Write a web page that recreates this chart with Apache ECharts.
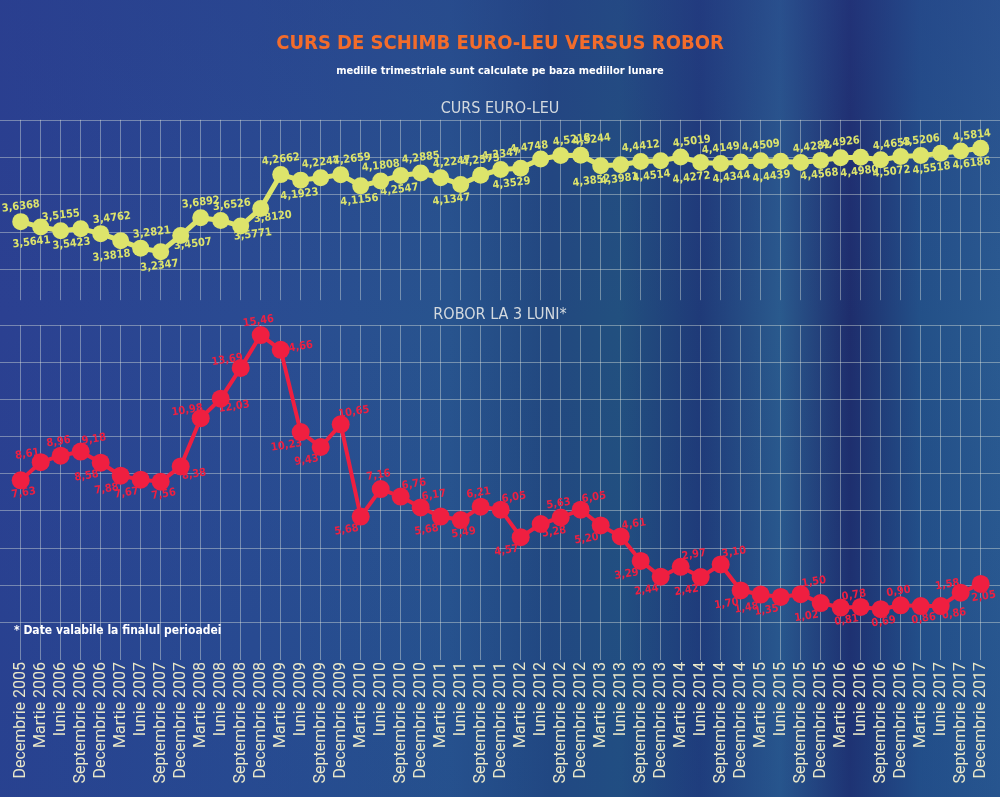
<!DOCTYPE html>
<html lang="ro">
<head>
  <meta charset="UTF-8" />
  <title>Curs de schimb euro-leu versus ROBOR</title>
  <script src="https://cdn.jsdelivr.net/npm/echarts@6/dist/echarts.min.js"></script>
  <style>
    html, body {
      margin: 0;
      padding: 0;
      width: 1000px;
      height: 797px;
      overflow: hidden;
    }
    body {
      background:
        linear-gradient(180deg, rgba(40, 60, 140, 0.35) 0%, rgba(30, 80, 140, 0) 40%, rgba(30, 70, 140, 0.25) 100%),
        linear-gradient(90deg, #2b4091 0%, #2a4b92 25%, #28548e 45%, #22487f 55%, #22507f 62%, #1f3a78 70%, #2a5a8d 78%, #1e2d6c 85%, #235088 92%, #2a5a90 100%);
    }
    #main {
      width: 1000px;
      height: 797px;
    }
  </style>
</head>
<body>
  <div id="main"></div>
  <script>
    // trimestre (sfarsitul perioadei)
    const quarters = [
      'Decembrie 2005', 'Martie 2006', 'Iunie 2006', 'Septembrie 2006',
      'Decembrie 2006', 'Martie 2007', 'Iunie 2007', 'Septembrie 2007',
      'Decembrie 2007', 'Martie 2008', 'Iunie 2008', 'Septembrie 2008',
      'Decembrie 2008', 'Martie 2009', 'Iunie 2009', 'Septembrie 2009',
      'Decembrie 2009', 'Martie 2010', 'Iunie 2010', 'Septembrie 2010',
      'Decembrie 2010', 'Martie 2011', 'Iunie 2011', 'Septembrie 2011',
      'Decembrie 2011', 'Martie 2012', 'Iunie 2012', 'Septembrie 2012',
      'Decembrie 2012', 'Martie 2013', 'Iunie 2013', 'Septembrie 2013',
      'Decembrie 2013', 'Martie 2014', 'Iunie 2014', 'Septembrie 2014',
      'Decembrie 2014', 'Martie 2015', 'Iunie 2015', 'Septembrie 2015',
      'Decembrie 2015', 'Martie 2016', 'Iunie 2016', 'Septembrie 2016',
      'Decembrie 2016', 'Martie 2017', 'Iunie 2017', 'Septembrie 2017',
      'Decembrie 2017'
    ];

    const eurLeu = [
      3.6368, 3.5641, 3.5155, 3.5423, 3.4762, 3.3818, 3.2821, 3.2347, 3.4507, 3.6892,
      3.6526, 3.5771, 3.8120, 4.2662, 4.1923, 4.2247, 4.2659, 4.1156, 4.1808, 4.2547,
      4.2885, 4.2247, 4.1347, 4.2575, 4.3347, 4.3529, 4.4748, 4.5218, 4.5244, 4.3852,
      4.3981, 4.4412, 4.4514, 4.5019, 4.4272, 4.4149, 4.4344, 4.4509, 4.4439, 4.4282,
      4.4568, 4.4926, 4.4980, 4.4653, 4.5072, 4.5206, 4.5518, 4.5814, 4.6186
    ];

    const robor3m = [
      7.63, 8.61, 8.96, 9.18, 8.58, 7.88, 7.67, 7.56, 8.38, 10.98,
      12.03, 13.69, 15.46, 14.66, 10.23, 9.43, 10.65, 5.68, 7.16, 6.76,
      6.17, 5.68, 5.49, 6.21, 6.05, 4.57, 5.28, 5.63, 6.05, 5.20,
      4.61, 3.29, 2.44, 2.97, 2.42, 3.10, 1.70, 1.48, 1.35, 1.50,
      1.02, 0.78, 0.81, 0.69, 0.90, 0.86, 0.86, 1.58, 2.05
    ];

    // unde sta eticheta fata de punct
    const eurSides = ('T BL T BL TR BL TR B BR T ' +
      'TR BR BR T B T TR B T B ' +
      'T TR BL T T BL TL TR TR BL ' +
      'B T BL TR BL T BL T BL TR ' +
      'B T B TR BL T BL TR BL').split(' ');
    const roborSides = ('B TL T TR BL BL BL B BR TL ' +
      'BR TL T R BL BL TR BL T TR ' +
      'TR BL B T TR BL BR T TR BL ' +
      'TR BL BL TR BL TR BL BL BL TR ' +
      'BL TR BL B T B BR TL B').split(' ');

    const eurOffset = { T: [2, -15], B: [-3, 14], TR: [13, -14], TL: [-10, -13], BL: [-11, 14], BR: [11, 10], R: [14, -5] };
    const roborOffset = { T: [0, -14], B: [1, 13], TR: [15, -10], TL: [-12, -10], BL: [-16, 11], BR: [12, 10], R: [17, 0] };

    const narrow = "'Liberation Sans Narrow', 'DejaVu Sans Condensed', 'Roboto Condensed', sans-serif";
    const gridLine = 'rgba(225, 232, 222, 0.42)';
    const yellow = '#dde46b';
    const red = '#ef1f40';

    const comma = (v, d) => v.toFixed(d).replace('.', ',');

    // serie doar pentru etichete, desenata peste puncte
    function labelSeries(values, sides, offsets, axis, color, digits, rot) {
      return {
        type: 'scatter',
        xAxisIndex: axis, yAxisIndex: axis,
        data: values.map((v, i) => ({ value: [i, v], label: { offset: offsets[sides[i]] } })),
        symbol: 'circle',
        symbolSize: 2,
        itemStyle: { color: 'rgba(0,0,0,0)', opacity: 1 },
        silent: true,
        label: {
          show: true, position: 'inside', rotate: rot,
          formatter: p => comma(p.value[1], digits),
          color: color, fontSize: 11, fontWeight: 'bold', fontFamily: narrow
        },
        z: 10
      };
    }

    const chart = echarts.init(document.getElementById('main'));

    chart.setOption({
      backgroundColor: 'transparent',
      animation: false,
      title: [
        {
          text: 'CURS DE SCHIMB EURO-LEU VERSUS ROBOR',
          left: 'center', top: 34, padding: 0,
          textStyle: { color: '#f36c2b', fontSize: 20, fontWeight: 'bold', fontFamily: narrow }
        },
        {
          text: 'mediile trimestriale sunt calculate pe baza mediilor lunare',
          left: 'center', top: 66, padding: 0,
          textStyle: { color: '#ffffff', fontSize: 11, fontWeight: 'bold', fontFamily: narrow }
        },
        {
          text: 'CURS EURO-LEU',
          left: 'center', top: 101, padding: 0,
          textStyle: { color: '#d3d9de', fontSize: 16, fontWeight: 'normal', fontFamily: narrow }
        },
        {
          text: 'ROBOR LA 3 LUNI*',
          left: 'center', top: 307, padding: 0,
          textStyle: { color: '#d3d9de', fontSize: 16, fontWeight: 'normal', fontFamily: narrow }
        },
        {
          text: '* Date valabile la finalul perioadei',
          left: 14, top: 625, padding: 0,
          textStyle: { color: '#ffffff', fontSize: 12, fontWeight: 'bold', fontFamily: narrow }
        }
      ],
      grid: [
        { left: 20.7, right: 19.3, top: 119.8, height: 149.4 },
        { left: 0, right: 0, top: 119.8, height: 149.4 },
        { left: 20.7, right: 19.3, top: 325, height: 297 },
        { left: 0, right: 0, top: 325, height: 297 }
      ],
      xAxis: [
        {
          gridIndex: 0, type: 'category', data: quarters, boundaryGap: false,
          axisLine: { show: false },
          axisLabel: { show: false, interval: 0 },
          axisTick: { show: true, interval: 0, length: 31, lineStyle: { color: gridLine } },
          splitLine: { show: true, interval: 0, lineStyle: { color: gridLine } }
        },
        { gridIndex: 1, type: 'value', min: 0, max: 1, show: false },
        {
          gridIndex: 2, type: 'category', data: quarters, boundaryGap: false,
          axisLine: { show: false },
          axisTick: { show: true, interval: 0, length: 38, lineStyle: { color: gridLine } },
          splitLine: { show: true, interval: 0, lineStyle: { color: gridLine } },
          axisLabel: {
            interval: 0, rotate: 90, margin: 40,
            color: '#e9e7c9', fontSize: 16, fontFamily: 'Roboto, sans-serif'
          }
        },
        { gridIndex: 3, type: 'value', min: 0, max: 1, show: false }
      ],
      yAxis: [
        { gridIndex: 0, type: 'value', min: 3, max: 5, show: false },
        {
          gridIndex: 1, type: 'value', min: 3, max: 5, interval: 0.5,
          axisLine: { show: false }, axisTick: { show: false }, axisLabel: { show: false },
          splitLine: { show: true, lineStyle: { color: gridLine } }
        },
        { gridIndex: 2, type: 'value', min: 0, max: 16, show: false },
        {
          gridIndex: 3, type: 'value', min: 0, max: 16, interval: 2,
          axisLine: { show: false }, axisTick: { show: false }, axisLabel: { show: false },
          splitLine: { show: true, lineStyle: { color: gridLine } }
        }
      ],
      series: [
        {
          name: 'Curs euro-leu',
          type: 'line',
          xAxisIndex: 0, yAxisIndex: 0,
          data: eurLeu,
          symbol: 'circle', symbolSize: 17,
          showSymbol: true, showAllSymbol: true,
          lineStyle: { color: yellow, width: 5 },
          itemStyle: { color: yellow },
          label: { show: false },
          z: 3
        },
        {
          name: 'ROBOR la 3 luni',
          type: 'line',
          xAxisIndex: 2, yAxisIndex: 2,
          data: robor3m,
          symbol: 'circle', symbolSize: 18,
          showSymbol: true, showAllSymbol: true,
          lineStyle: { color: red, width: 4 },
          itemStyle: { color: red },
          label: { show: false },
          z: 3
        },
        labelSeries(eurLeu, eurSides, eurOffset, 0, yellow, 4, 7),
        labelSeries(robor3m, roborSides, roborOffset, 2, red, 2, 9)
      ]
    });
  </script>
</body>
</html>
